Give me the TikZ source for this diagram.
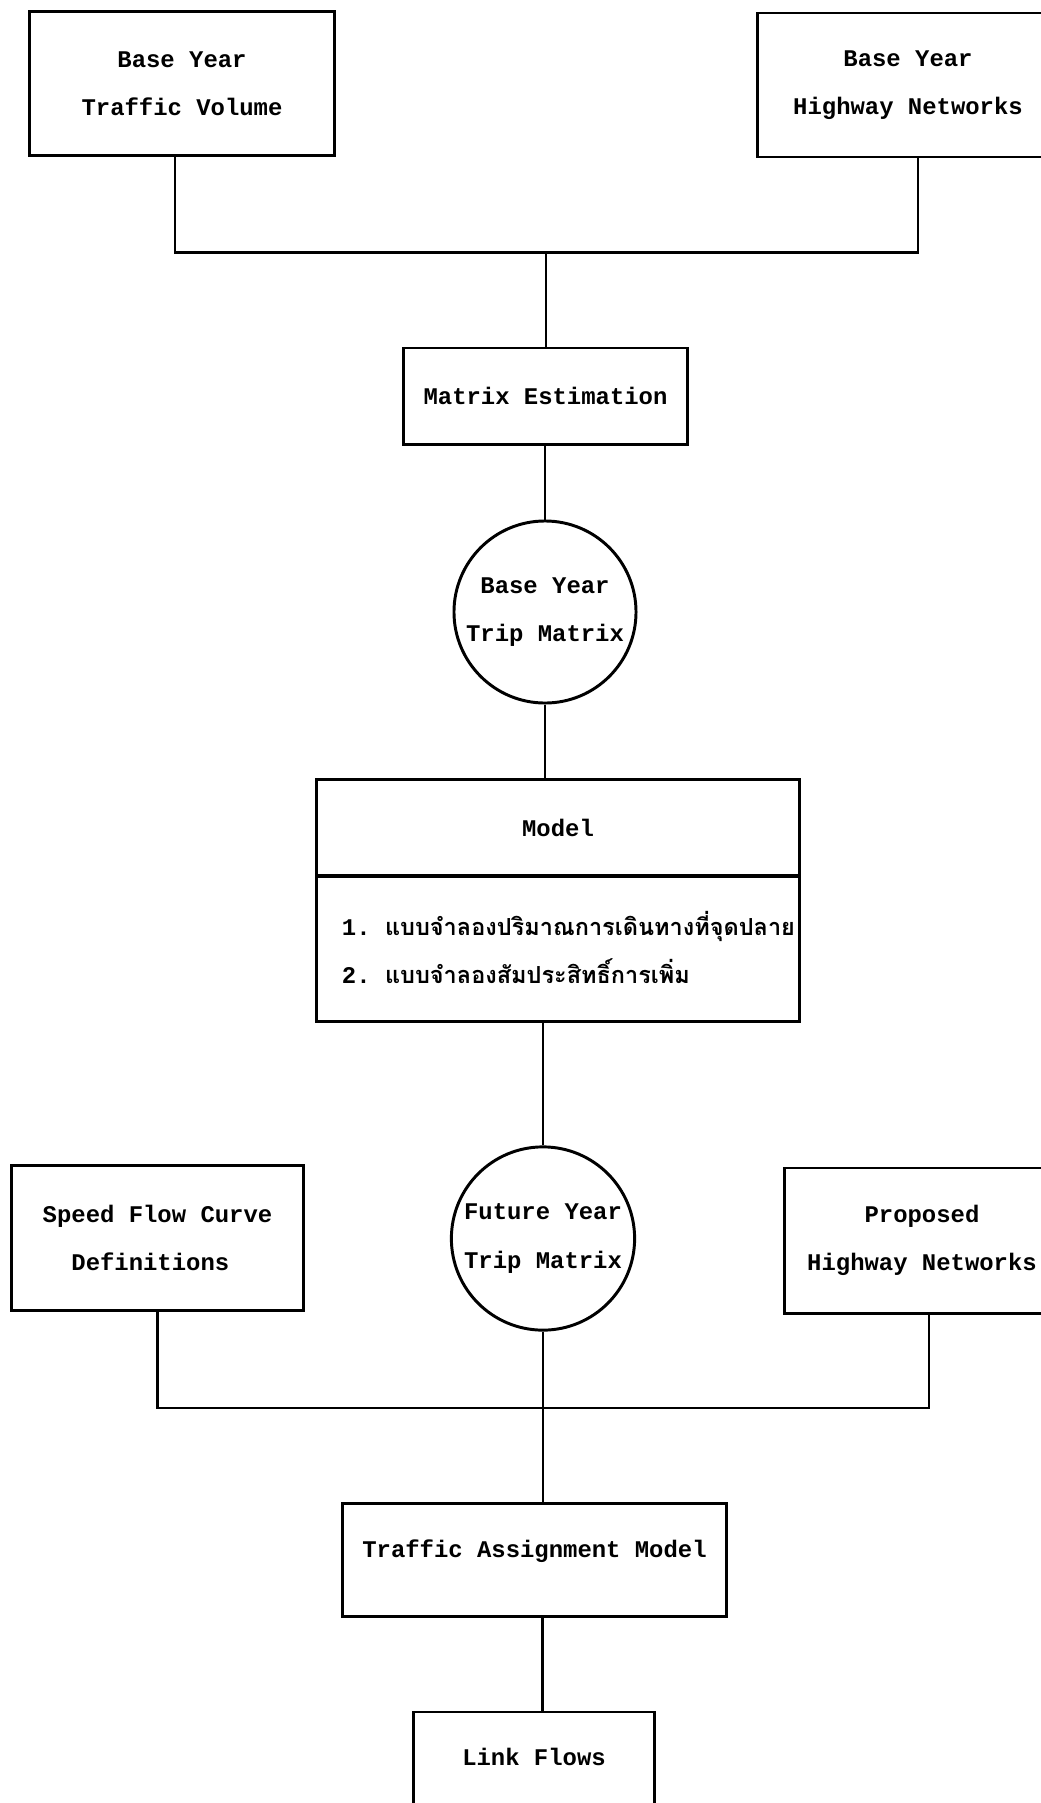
\documentclass[tikz,border=0pt]{standalone}
\usepackage{fontspec}
\setmonofont{Liberation Mono}
\newfontfamily\thaifont[Script=Thai]{Loma}

\begin{document}
\begin{tikzpicture}[x=0.025cm,y=-0.025cm,
    every node/.style={font=\ttfamily\bfseries\fontsize{17}{34.4}\selectfont},
    box/.style={draw,line width=2.1pt,rectangle,align=center,inner sep=0pt},
    lowbox/.style={box,text height=11pt,text depth=14pt},
    disc/.style={draw,line width=2.1pt,circle,align=center,inner sep=0pt},
    link/.style={line width=2.1pt}]
  \useasboundingbox (0,0) rectangle (1040,1803);

  %% inputs of the base year
  \node (tv) [box,minimum width=7.625cm,minimum height=3.6cm] at (182,83.5)
    {Base Year\\Traffic Volume};
  \node (hn) [box,minimum width=7.5cm,minimum height=3.6cm] at (908,85)
    {Base Year\\Highway Networks};
  \coordinate (bus1) at (546,252.5);

  \node (me) [box,minimum width=7.075cm,minimum height=2.415cm] at (545.5,396.3)
    {Matrix Estimation};
  \node (btm) [disc,minimum size=4.55cm] at (545,612) {Base Year\\Trip Matrix};

  %% model
  \node (mdl) [box,minimum width=12.05cm,minimum height=2.41cm] at (558,827.8) {Model};
  \node (mdlbody) [box,minimum width=12.05cm,minimum height=3.64cm] at (558,948.75) {};
  \node (mdllist) [anchor=west,align=left] at (337,947.5)
    {1. {\thaifont\fontsize{16.7}{34.9}\selectfont แบบจำลองปริมาณการเดินทางที่จุดปลาย}\\
     2. {\thaifont\fontsize{16.7}{34.9}\selectfont แบบจำลองสัมประสิทธิ์การเพิ่ม}};

  %% future year
  \node (ftm) [disc,minimum size=4.58cm] at (543,1238.5) {Future Year\\Trip Matrix};
  \node (sfc) [box,align=left,minimum width=7.275cm,minimum height=3.625cm] at (157.5,1238)
    {Speed Flow Curve\\\hspace*{1.2em}Definitions\hspace*{1em}};
  \node (phn) [box,minimum width=6.85cm,minimum height=3.625cm] at (922,1240.5)
    {Proposed\\Highway Networks};
  \coordinate (bus2) at (543,1408);

  \node (tam) [lowbox,minimum width=9.575cm,minimum height=2.81cm] at (534.5,1559.8)
    {Traffic Assignment Model};
  \node (lf) [lowbox,minimum width=6cm,minimum height=2.8cm] at (534,1768) {Link Flows};

  %% connectors
  \draw [link] ([xshift=-0.175cm]tv.south) |- (bus1) -| ([xshift=0.25cm]hn.south);
  \draw [link] (bus1) -- (bus1 |- me.north);
  \draw [link] (btm.north |- me.south) -- (btm.north);
  \draw [link] (btm.south) -- (btm.south |- mdl.north);
  \draw [link] (ftm.north |- mdlbody.south) -- (ftm.north);
  \draw [link] (sfc.south) |- (bus2) -| ([xshift=0.175cm]phn.south);
  \draw [link] (ftm.south) -- (bus2) -- (bus2 |- tam.north);
  \draw [link] ([xshift=0.19cm]tam.south) -- ([xshift=0.19cm]tam.south |- lf.north);
\end{tikzpicture}
\end{document}
